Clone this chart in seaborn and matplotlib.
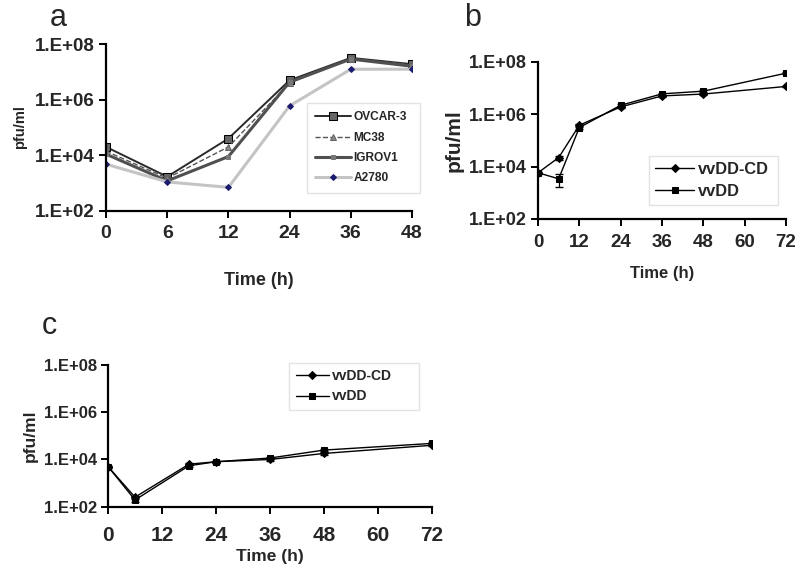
import numpy as np
import pandas as pd
import matplotlib
matplotlib.use("Agg")
import matplotlib.pyplot as plt
import seaborn as sns

# --- data ---
# panel a: cell lines, categorical time points
a_times = ["0", "6", "12", "24", "36", "48"]
ovcar3 = [2.0e4, 1.7e3, 4.0e4, 5.0e6, 3.2e7, 1.9e7]
mc38 = [1.4e4, 1.5e3, 2.0e4, 4.0e6, 3.0e7, 1.8e7]
igrov1 = [1.1e4, 1.2e3, 9.0e3, 4.3e6, 2.9e7, 1.6e7]
a2780 = [4.8e3, 1.1e3, 7.0e2, 6.0e5, 1.25e7, 1.25e7]

# panel b
b_time = [0, 6, 12, 24, 36, 48, 72]
b_cd = [5.8e3, 2.2e4, 3.8e5, 1.9e6, 5.0e6, 5.9e6, 1.15e7]
b_cd_err = [5e2, 4e3, 5e4, 2e5, 4e5, 5e5, 1e6]
b_dd = [5.8e3, 3.4e3, 3.1e5, 2.2e6, 6.0e6, 7.6e6, 3.7e7]
b_dd_err = [5e2, 1.7e3, 4e4, 3e5, 6e5, 8e5, 4e6]

# panel c
c_time = [0, 6, 18, 24, 36, 48, 72]
c_cd = [5.0e3, 2.5e2, 6.3e3, 8.0e3, 1.0e4, 1.8e4, 4.0e4]
c_cd_err = [5e2, 4e1, 6e2, 8e2, 1e3, 2e3, 4e3]
c_dd = [5.0e3, 1.9e2, 5.4e3, 8.0e3, 1.15e4, 2.5e4, 4.8e4]
c_dd_err = [5e2, 3e1, 5e2, 8e2, 1.2e3, 3e3, 5e3]

y_ticks = [1e2, 1e4, 1e6, 1e8]
y_labels = ["1.E+02", "1.E+04", "1.E+06", "1.E+08"]

sns.set_style("ticks")
plt.rcParams["font.family"] = ["Liberation Sans", "DejaVu Sans"]
plt.rcParams["font.weight"] = "bold"

fig = plt.figure(figsize=(8, 5.73), dpi=100)


def style_axes(ax, ytick_size, xtick_size):
    ax.set_yscale("log")
    ax.set_ylim(1e2, 1e8)
    ax.yaxis.set_major_locator(matplotlib.ticker.FixedLocator(y_ticks))
    ax.yaxis.set_minor_locator(matplotlib.ticker.NullLocator())
    ax.set_yticklabels(y_labels, fontsize=ytick_size, fontweight="bold")
    for lbl in ax.get_xticklabels():
        lbl.set_fontsize(xtick_size)
        lbl.set_fontweight("bold")
    for side in ["top", "right"]:
        ax.spines[side].set_visible(False)
    for side in ["left", "bottom"]:
        ax.spines[side].set_linewidth(1.6)
        ax.spines[side].set_color("black")
    ax.tick_params(width=1.4, length=5, color="black", pad=3)


def boxed_legend(ax, box, size, **kw):
    # box = (x0, top, width, height) in axes fraction
    x0, top, w, h = box
    leg = ax.legend(loc="upper left", bbox_to_anchor=(x0, top - h, w, h),
                    mode="expand", borderaxespad=0, frameon=True,
                    fancybox=False, prop={"size": size, "weight": "bold"},
                    handletextpad=0.2, **kw)
    leg.get_frame().set_edgecolor("#dddddd")
    leg.get_frame().set_linewidth(1.0)
    return leg


# ---------- panel a ----------
ax_a = fig.add_axes([0.1325, 0.632, 0.3825, 0.291])
pos = np.arange(len(a_times))
a_series = [
    ("OVCAR-3", ovcar3, dict(color="#2a2a2a", lw=1.4, marker="s", ms=6,
                             mfc="#666666", mec="black", ls="-")),
    ("MC38", mc38, dict(color="#555555", lw=1.0, marker="^", ms=5,
                        mfc="#888888", mec="#666666", ls="--")),
    ("IGROV1", igrov1, dict(color="#505050", lw=2.2, marker="s", ms=3.5,
                            mfc="#777777", mec="#777777", ls="-")),
    ("A2780", a2780, dict(color="#c4c4c4", lw=2.2, marker="D", ms=3,
                          mfc="#1c1c6e", mec="#1c1c6e", ls="-")),
]
for name, vals, st in a_series:
    df = pd.DataFrame({"pos": pos, "pfu": vals})
    sns.lineplot(data=df, x="pos", y="pfu", ax=ax_a, label=name,
                 color=st["color"], linewidth=st["lw"], linestyle=st["ls"],
                 marker=st["marker"], markersize=st["ms"],
                 markerfacecolor=st["mfc"], markeredgecolor=st["mec"])
ax_a.set_xlim(0, len(a_times) - 1)
ax_a.set_xticks(pos)
ax_a.set_xticklabels(a_times)
style_axes(ax_a, 13.5, 14)
ax_a.tick_params(axis="x", pad=5)
ax_a.set_xlabel("Time (h)", fontsize=13, fontweight="bold", labelpad=22)
ax_a.set_ylabel("pfu/ml", fontsize=10.5, fontweight="bold", labelpad=6)
boxed_legend(ax_a, (0.657, 0.647, 0.37, 0.53), 8.6, handlelength=3,
             borderpad=0.7, labelspacing=0.7)
fig.text(0.062, 0.995, "a", fontsize=22, fontweight="normal", va="top")

# ---------- panel b ----------
ax_b = fig.add_axes([0.6725, 0.618, 0.31, 0.274])
for name, vals, err, mk, ms in [("vvDD-CD", b_cd, b_cd_err, "D", 4),
                                ("vvDD", b_dd, b_dd_err, "s", 5)]:
    df = pd.DataFrame({"time": b_time, "pfu": vals})
    ax_b.errorbar(b_time, vals, yerr=err, fmt="none", ecolor="black",
                  elinewidth=0.9, capsize=3)
    sns.lineplot(data=df, x="time", y="pfu", ax=ax_b, label=name,
                 color="black", linewidth=1.0, marker=mk, markersize=ms,
                 markerfacecolor="black", markeredgecolor="black")
ax_b.set_xlim(0, 72)
ax_b.set_xticks(range(0, 73, 12))
style_axes(ax_b, 13, 13.5)
ax_b.tick_params(axis="x", pad=6)
ax_b.set_xlabel("Time (h)", fontsize=12, fontweight="bold", labelpad=11)
ax_b.set_ylabel("pfu/ml", fontsize=15, fontweight="bold", labelpad=4)
boxed_legend(ax_b, (0.448, 0.40, 0.52, 0.31), 11.8, handlelength=2.4,
             borderpad=0.35, labelspacing=0.45)
fig.text(0.58, 0.995, "b", fontsize=22, fontweight="normal", va="top")

# ---------- panel c ----------
ax_c = fig.add_axes([0.135, 0.116, 0.405, 0.2465])
for name, vals, err, mk, ms in [("vvDD-CD", c_cd, c_cd_err, "D", 4),
                                ("vvDD", c_dd, c_dd_err, "s", 5)]:
    df = pd.DataFrame({"time": c_time, "pfu": vals})
    ax_c.errorbar(c_time, vals, yerr=err, fmt="none", ecolor="black",
                  elinewidth=0.9, capsize=3)
    sns.lineplot(data=df, x="time", y="pfu", ax=ax_c, label=name,
                 color="black", linewidth=1.0, marker=mk, markersize=ms,
                 markerfacecolor="black", markeredgecolor="black")
ax_c.set_xlim(0, 72)
ax_c.set_xticks(range(0, 73, 12))
style_axes(ax_c, 12, 15)
ax_c.tick_params(axis="x", pad=9)
ax_c.set_xlabel("Time (h)", fontsize=12.5, fontweight="bold", labelpad=3)
ax_c.set_ylabel("pfu/ml", fontsize=12.5, fontweight="bold", labelpad=4)
boxed_legend(ax_c, (0.56, 1.017, 0.40, 0.32), 10, handlelength=2.4,
             borderpad=0.45, labelspacing=0.45)
fig.text(0.052, 0.458, "c", fontsize=22, fontweight="normal", va="top")

fig.savefig("out.png", dpi=100)
